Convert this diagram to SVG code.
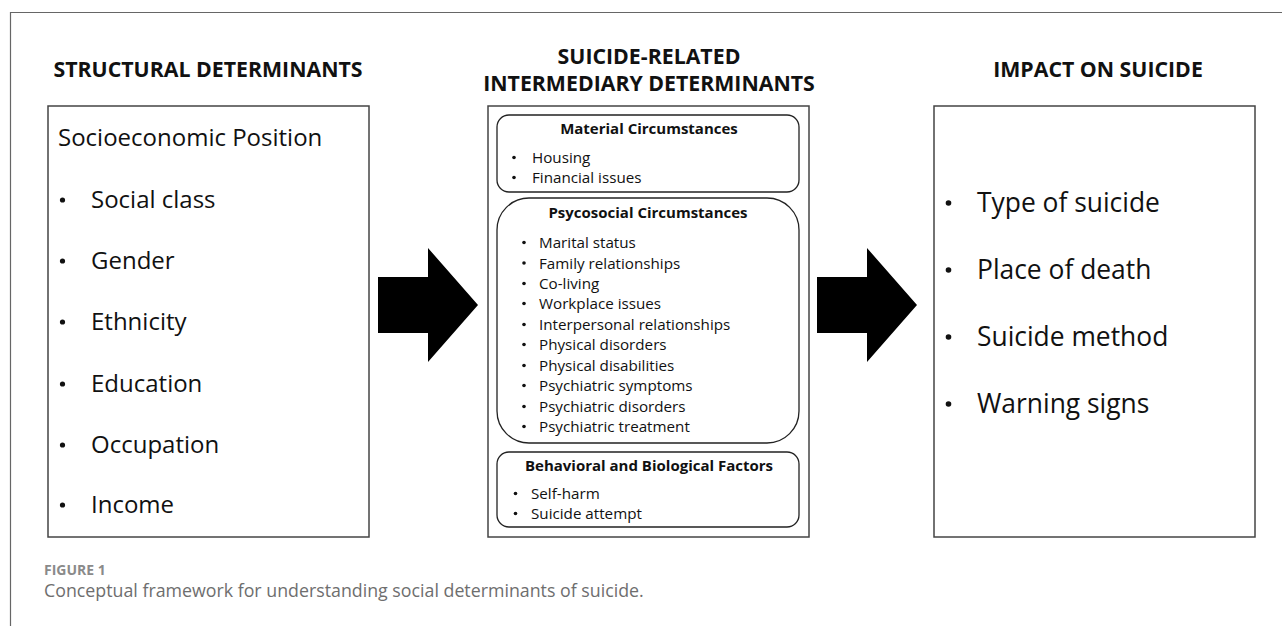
<svg xmlns="http://www.w3.org/2000/svg" width="1282" height="626" viewBox="0 0 1282 626">
<style>
text{font-family:"Open Sans","Liberation Sans",sans-serif;fill:#111}
.hd{font-weight:bold;font-size:21.3px;text-anchor:middle}
.big{font-size:24px}
.rt{font-size:26.4px}
.sm{font-size:15.2px}
.st{font-size:15px;font-weight:bold;text-anchor:middle}
.b{fill:#111}
.box{fill:#fff;stroke:#444;stroke-width:1.5}
.rbox{fill:#fff;stroke:#222;stroke-width:1.3}
.arrow{fill:#000}
.cap1{font-weight:bold;font-size:14px;fill:#8a8a8a}
.cap2{font-size:17.8px;fill:#6e6e6e}
</style>
<rect width="1282" height="626" fill="#fff"/>
<path d="M10.5 626 V12.5 H1282" fill="none" stroke="#666" stroke-width="1.2"/>

<g id="structural">
<text class="hd" x="208" y="77">STRUCTURAL DETERMINANTS</text>
<rect class="box" x="48" y="106" width="321" height="431"/>
<text class="big" x="58" y="146">Socioeconomic Position</text>
<g class="b">
<circle cx="62.5" cy="200" r="2.6"/><circle cx="62.5" cy="261" r="2.6"/><circle cx="62.5" cy="322" r="2.6"/>
<circle cx="62.5" cy="384" r="2.6"/><circle cx="62.5" cy="445" r="2.6"/><circle cx="62.5" cy="505" r="2.6"/>
</g>
<g class="big">
<text x="91" y="208">Social class</text>
<text x="91" y="269">Gender</text>
<text x="91" y="330">Ethnicity</text>
<text x="91" y="392">Education</text>
<text x="91" y="453">Occupation</text>
<text x="91" y="513">Income</text>
</g>
</g>

<g id="intermediary">
<text class="hd" x="649" y="64">SUICIDE-RELATED</text>
<text class="hd" x="649" y="91">INTERMEDIARY DETERMINANTS</text>
<rect class="box" x="488" y="106" width="321" height="431"/>
<g id="material">
<rect class="rbox" x="497" y="115" width="302" height="77" rx="12"/>
<text class="st" x="649" y="134">Material Circumstances</text>
<circle class="b" cx="514" cy="157.5" r="1.8"/><circle class="b" cx="514" cy="177.5" r="1.8"/>
<g class="sm">
<text x="532" y="163">Housing</text>
<text x="532" y="183">Financial issues</text>
</g>
</g>
<g id="psychosocial">
<rect class="rbox" x="497" y="198" width="302" height="245" rx="32"/>
<text class="st" x="648" y="218">Psycosocial Circumstances</text>
<g class="b">
<circle cx="524" cy="242.5" r="1.8"/><circle cx="524" cy="263" r="1.8"/><circle cx="524" cy="283.5" r="1.8"/>
<circle cx="524" cy="303.5" r="1.8"/><circle cx="524" cy="324.5" r="1.8"/><circle cx="524" cy="344.5" r="1.8"/>
<circle cx="524" cy="365.5" r="1.8"/><circle cx="524" cy="385.5" r="1.8"/><circle cx="524" cy="406.5" r="1.8"/>
<circle cx="524" cy="426.5" r="1.8"/>
</g>
<g class="sm">
<text x="539" y="248">Marital status</text>
<text x="539" y="268.5">Family relationships</text>
<text x="539" y="289">Co-living</text>
<text x="539" y="309">Workplace issues</text>
<text x="539" y="330">Interpersonal relationships</text>
<text x="539" y="350">Physical disorders</text>
<text x="539" y="371">Physical disabilities</text>
<text x="539" y="391">Psychiatric symptoms</text>
<text x="539" y="412">Psychiatric disorders</text>
<text x="539" y="432">Psychiatric treatment</text>
</g>
</g>
<g id="behavioral">
<rect class="rbox" x="497" y="452" width="302" height="75" rx="12"/>
<text class="st" x="649" y="471">Behavioral and Biological Factors</text>
<circle class="b" cx="515.5" cy="493.5" r="1.8"/><circle class="b" cx="515.5" cy="513.5" r="1.8"/>
<g class="sm">
<text x="531" y="499">Self-harm</text>
<text x="531" y="519">Suicide attempt</text>
</g>
</g>
</g>

<g id="impact">
<text class="hd" x="1098" y="77">IMPACT ON SUICIDE</text>
<rect class="box" x="934" y="106" width="321" height="431"/>
<g class="b">
<circle cx="948.5" cy="203" r="2.8"/><circle cx="948.5" cy="270" r="2.8"/>
<circle cx="948.5" cy="337" r="2.8"/><circle cx="948.5" cy="404" r="2.8"/>
</g>
<g class="rt">
<text x="977" y="212">Type of suicide</text>
<text x="977" y="279">Place of death</text>
<text x="977" y="346">Suicide method</text>
<text x="977" y="413">Warning signs</text>
</g>
</g>

<g id="connectors">
<polygon class="arrow" points="378,277 428,277 428,248 478,305 428,362 428,333 378,333"/>
<polygon class="arrow" points="817,277 867,277 867,248 917,305 867,362 867,333 817,333"/>
</g>

<g id="caption">
<text class="cap1" x="44" y="575">FIGURE 1</text>
<text class="cap2" x="44" y="597">Conceptual framework for understanding social determinants of suicide.</text>
</g>
</svg>
